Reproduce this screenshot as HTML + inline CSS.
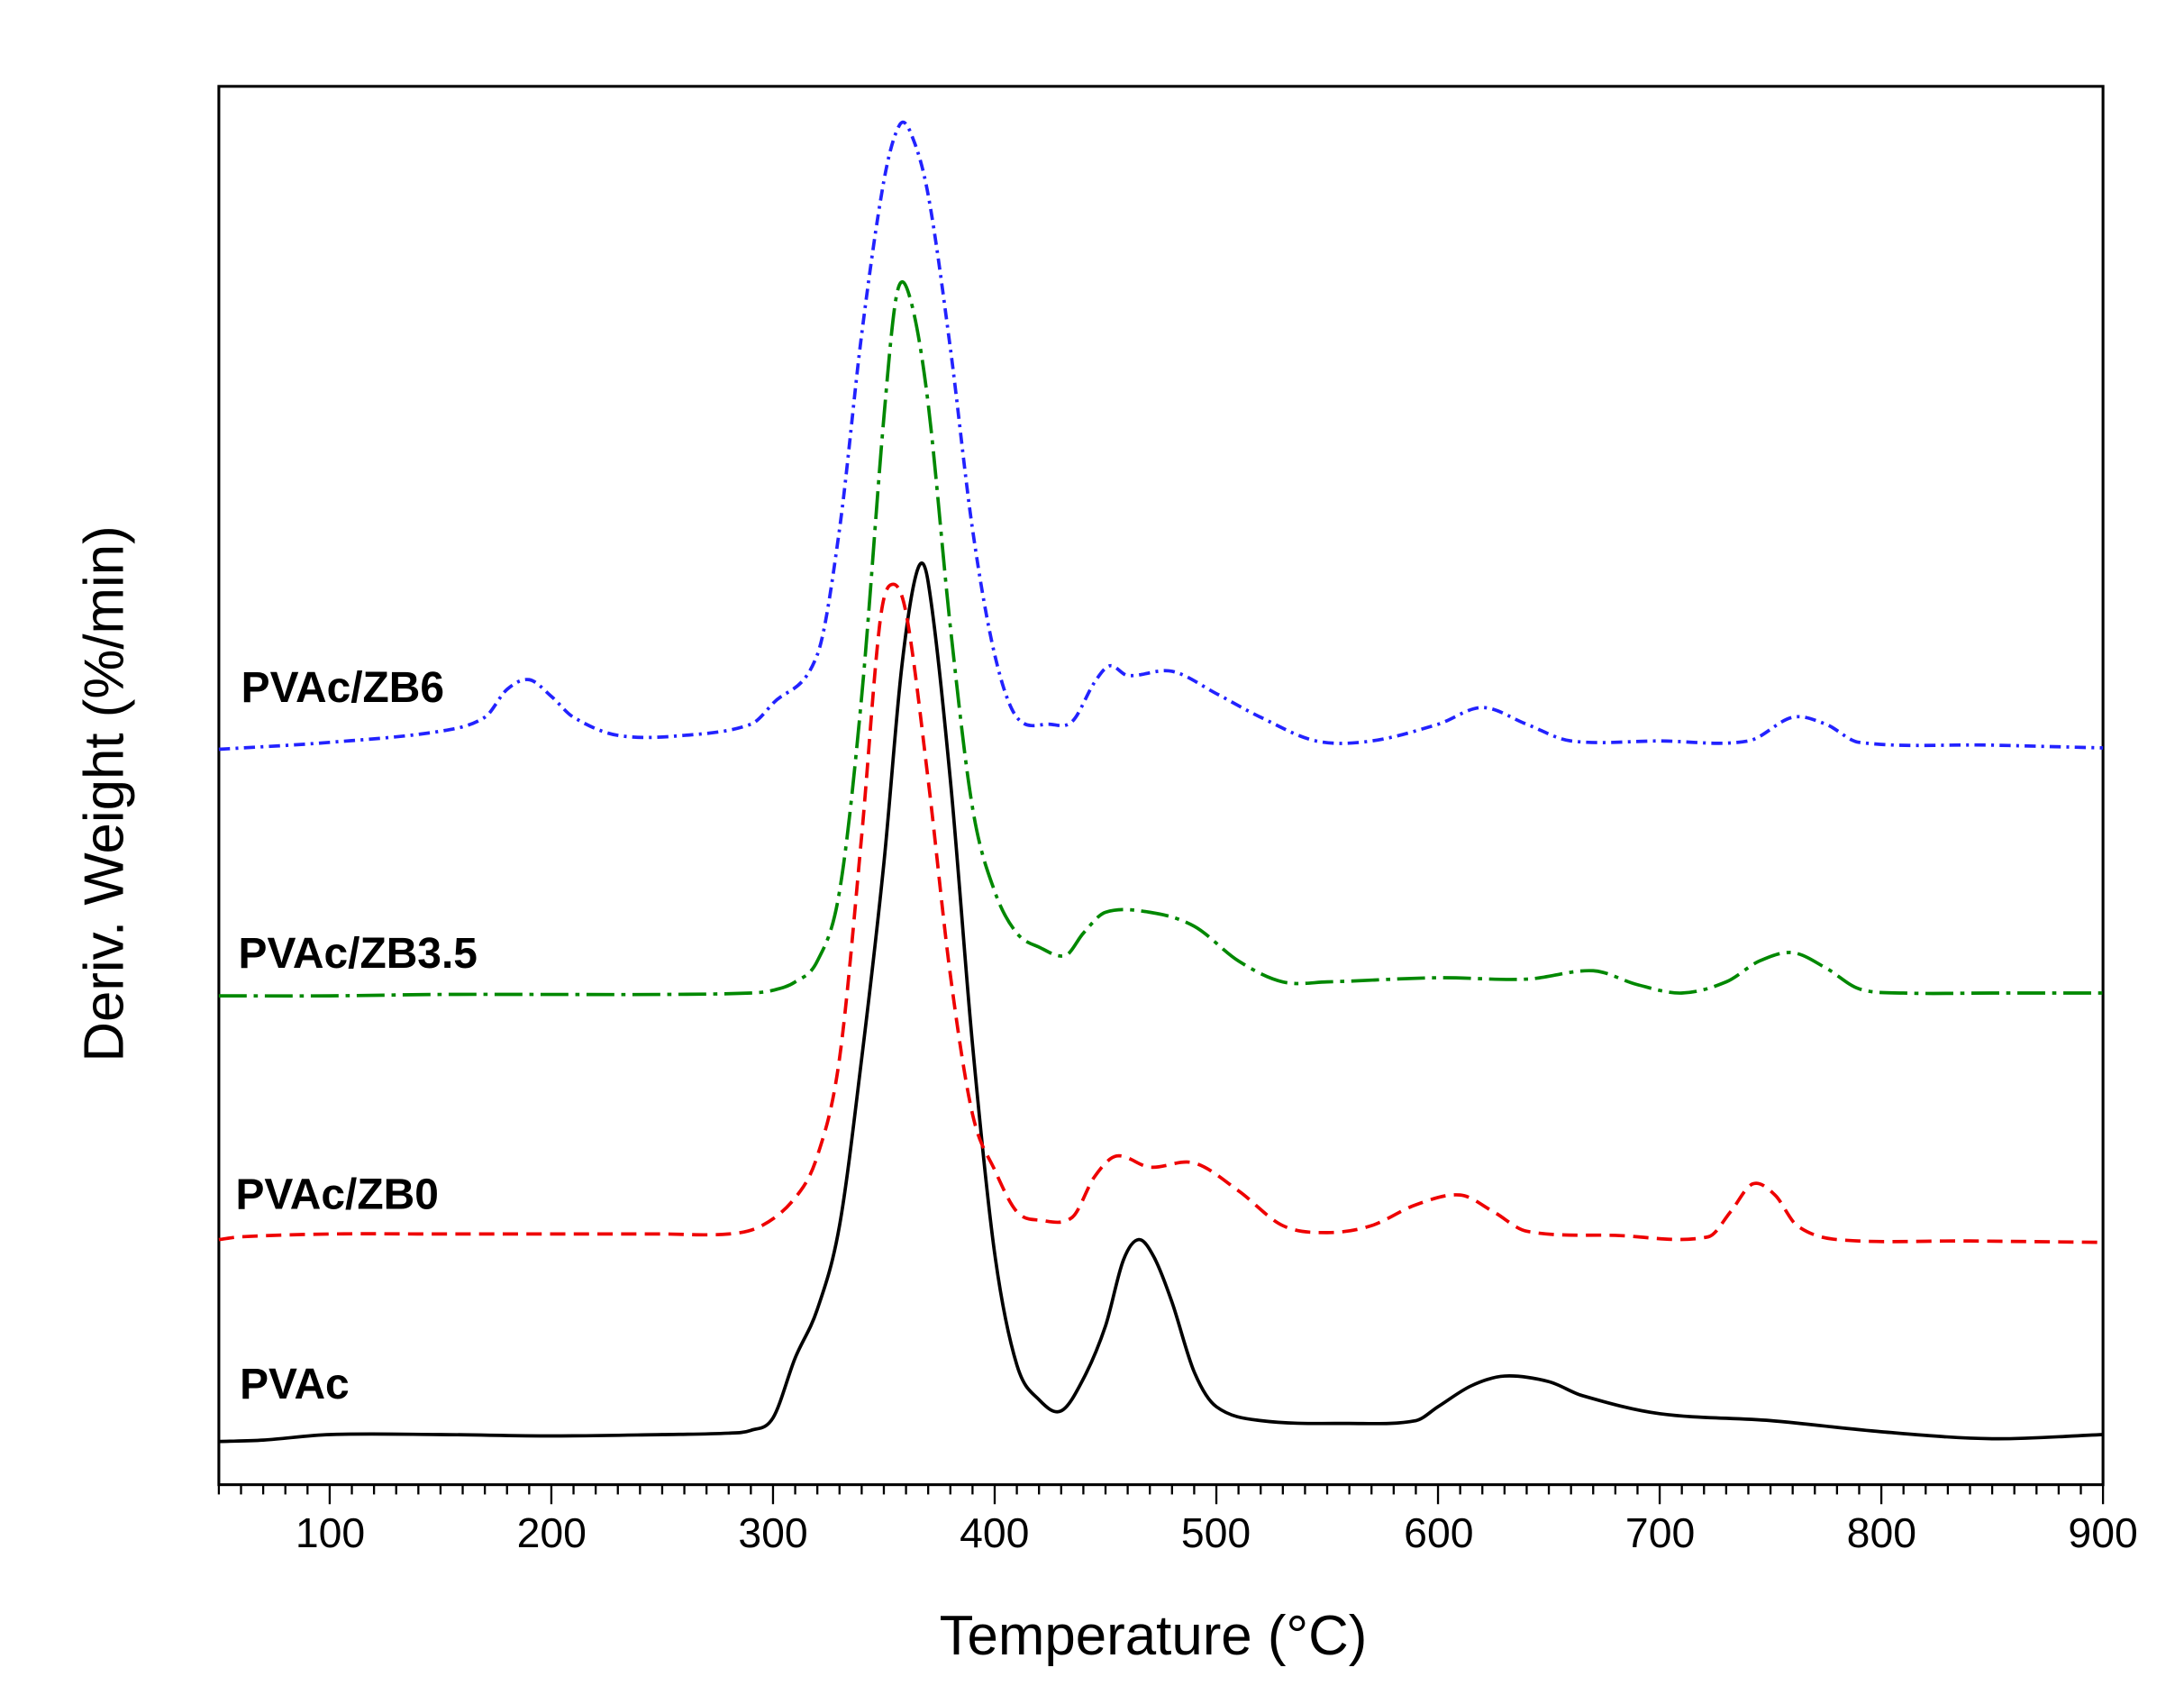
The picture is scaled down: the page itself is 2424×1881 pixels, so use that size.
<!DOCTYPE html>
<html><head><meta charset="utf-8"><style>
html,body{margin:0;padding:0;background:#fff;}
svg{display:block;}
text{font-family:"Liberation Sans",Arial,sans-serif;}
</style></head><body>
<svg id="s" width="2424" height="1881" viewBox="0 0 1568 1217" xmlns="http://www.w3.org/2000/svg">
<rect width="1568" height="1217" fill="#fff"/>
<rect x="157" y="62" width="1353" height="1004" fill="none" stroke="#000" stroke-width="2"/>
<g id="ticks" stroke="#000" stroke-width="1.5"></g>
<g id="curves" fill="none" stroke-width="2.4"></g>
<g font-size="30" text-anchor="middle" fill="#000">
<text x="237" y="1111">100</text><text x="396" y="1111">200</text><text x="555" y="1111">300</text>
<text x="714" y="1111">400</text><text x="873" y="1111">500</text><text x="1033" y="1111">600</text>
<text x="1192" y="1111">700</text><text x="1351" y="1111">800</text><text x="1510" y="1111">900</text>
</g>
<text x="828" y="1188" font-size="40" text-anchor="middle">Temperature (°C)</text>
<text transform="translate(88,570) rotate(-90)" font-size="40" text-anchor="middle">Deriv. Weight (%/min)</text>
<g font-size="31" font-weight="bold" fill="#000">
<text x="173" y="504">PVAc/ZB6</text>
<text x="171" y="695">PVAc/ZB3.5</text>
<text x="169" y="868">PVAc/ZB0</text>
<text x="172" y="1004">PVAc</text>
</g>
</svg>
<script>
function X(t){return 157+(t-50)*1353/850;}
var tk=document.getElementById('ticks'),h='';
for(var t=50;t<=900;t+=10){var x=X(t),L=(t%100==0)?14:7;h+='<line x1="'+x+'" y1="1066" x2="'+x+'" y2="'+(1066+L)+'"/>';}
tk.innerHTML=h;
var data={
k:[[50,1035],[70,1034],[100,1030],[150,1030],[200,1031],[250,1030],[280,1029],[290,1027],[300,1018],[310,975],[320,940],[330,880],[340,760],[350,620],[358,480],[365,410],[370,418],[380,560],[390,750],[400,900],[410,980],[420,1005],[430,1013],[440,990],[450,952],[458,905],[465,890],[472,903],[480,935],[490,985],[500,1010],[520,1020],[560,1022],[590,1020],[600,1010],[615,995],[630,988],[650,992],[665,1002],[700,1015],[750,1020],[800,1028],[850,1033],[900,1030]],
r:[[50,890],[60,888],[100,886],[150,886],[200,886],[250,886],[280,886],[295,880],[310,860],[320,830],[330,760],[340,600],[348,450],[353,420],[360,440],[370,560],[380,700],[390,800],[400,840],[410,870],[420,876],[435,874],[445,845],[455,830],[470,838],[490,835],[510,855],[530,880],[550,885],[570,880],[590,865],[610,858],[625,870],[640,884],[680,887],[722,888],[732,870],[742,850],[752,858],[762,880],[780,890],[840,891],[900,892]],
g:[[50,715],[100,715],[150,714],[200,714],[250,714],[290,713],[300,711],[310,705],[320,690],[330,640],[340,500],[350,300],[356,210],[362,215],[370,290],[380,450],[390,580],[400,640],[410,670],[420,680],[432,686],[440,670],[450,655],[470,655],[490,665],[510,690],[530,705],[550,705],[600,702],[640,703],[670,697],[690,707],[710,713],[730,705],[745,690],[760,684],[775,695],[790,710],[810,713],[850,713],[900,713]],
b:[[50,538],[100,533],[150,525],[170,515],[180,495],[190,488],[200,500],[210,515],[230,528],[260,528],[290,520],[300,505],[320,470],[330,380],[340,240],[350,130],[357,90],[362,95],[370,140],[380,250],[390,380],[400,470],[410,515],[425,520],[435,518],[445,490],[452,478],[460,485],[480,482],[500,498],[520,515],[545,532],[570,532],[600,520],[620,508],[640,520],[660,532],[700,532],[740,532],[760,515],[775,520],[790,533],[850,535],[900,537]]};
function path(p){var q=p.map(function(a){return [X(a[0]),a[1]];}),n=q.length,m=[];
for(var i=0;i<n;i++){var a=q[Math.max(0,i-1)],b=q[Math.min(n-1,i+1)];m.push((b[1]-a[1])/(b[0]-a[0]));}
var d='M'+q[0][0]+','+q[0][1];
for(var i=0;i<n-1;i++){var dx=(q[i+1][0]-q[i][0])/3;
d+=' C'+(q[i][0]+dx)+','+(q[i][1]+m[i]*dx)+' '+(q[i+1][0]-dx)+','+(q[i+1][1]-m[i+1]*dx)+' '+q[i+1][0]+','+q[i+1][1];}
return d;}
var st={k:['#000',''],r:['#e00','11,6'],g:['#080','20,5,3,5'],b:['#22f','8,4,2,4']};
var c='';for(var k in data){c+='<path d="'+path(data[k])+'" stroke="'+st[k][0]+'"'+(st[k][1]?' stroke-dasharray="'+st[k][1]+'"':'')+'/>';}
document.getElementById('curves').innerHTML=c;
</script>
</body></html>
